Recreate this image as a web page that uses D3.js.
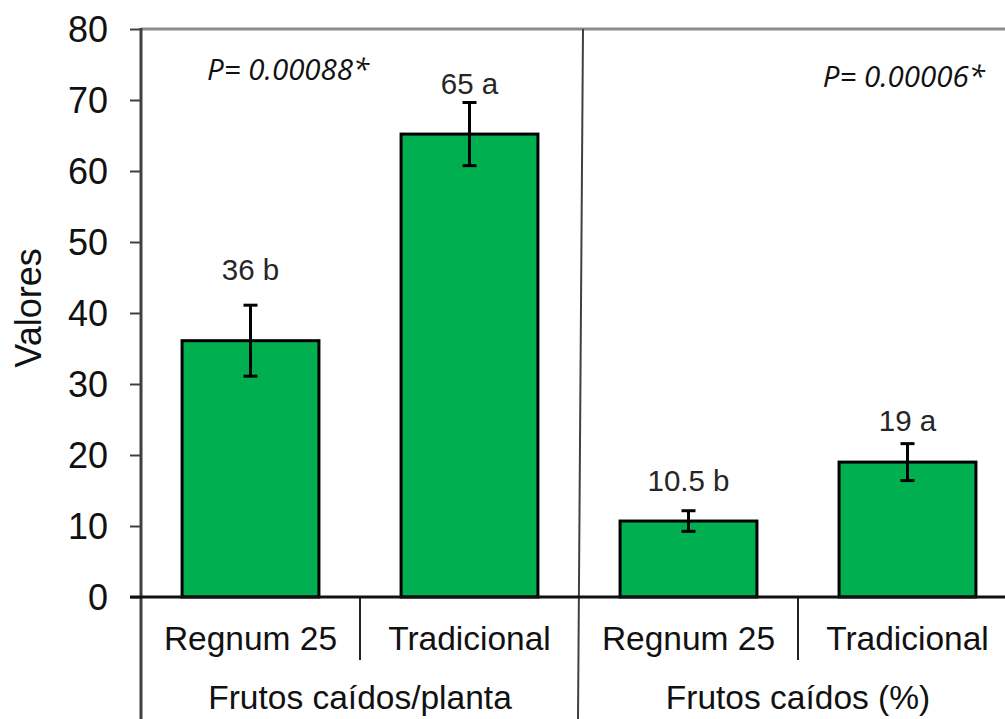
<!DOCTYPE html>
<html>
<head>
<meta charset="utf-8">
<script src="https://cdn.jsdelivr.net/npm/d3@7"></script>
<style>
  body { margin: 0; background: #fff; }
  svg { display: block; font-family: "Liberation Sans", Arial, sans-serif; }
</style>
</head>
<body>
<div id="chart"></div>
<script>
"use strict";

// Data.
const groups = ["Frutos caídos/planta", "Frutos caídos (%)"];
const treatments = ["Regnum 25", "Tradicional"];
const means = [[36.1, 65.2], [10.7, 19.0]];
const errors = [[5.0, 4.45], [1.45, 2.6]];
const valueLabels = [["36 b", "65 a"], ["10.5 b", "19 a"]];
// where each value label sits, in axis units
const valueLabelAt = [[44.7, 70.8], [14.9, 23.4]];
const pLabels = ["P= 0.00088*", "P= 0.00006*"];
const pLabelAt = [72.8, 71.8];
const yTicks = [0, 10, 20, 30, 40, 50, 60, 70, 80];
const yLabel = "Valores";

const W = 1005, H = 719;
const svg = d3.select("#chart").append("svg")
    .attr("width", W)
    .attr("height", H);

// flat list of bars, one per group/treatment pair
let bars = [];
groups.forEach(function(g, gi) {
    treatments.forEach(function(t, ti) {
        bars.push({
            key: gi + "|" + t, group: g, gi: gi, name: t,
            mean: means[gi][ti], err: errors[gi][ti],
            label: valueLabels[gi][ti], labelAt: valueLabelAt[gi][ti]
        });
    });
});

const y = d3.scaleLinear().domain([0, 80]).range([597, 29]);
const x = d3.scaleBand()
    .domain(bars.map(d => d.key))
    .range([141, 1017])
    .paddingInner(0.375)
    .paddingOuter(0.1875);
const step = x.step();
const half = (step - x.bandwidth()) / 2;  // gap from bar edge to category edge
const catLeft = d => x(d.key) - half;

// Plot frame: top grey line
svg.append("line")
    .attr("x1", 141).attr("x2", W)
    .attr("y1", y(80)).attr("y2", y(80))
    .style("stroke", "#8c8c8c").style("stroke-width", 3);

// Y axis with ticks and labels
const yAxis = d3.axisLeft(y).tickValues(yTicks).tickSize(11).tickPadding(22);
const gy = svg.append("g")
    .attr("transform", "translate(141,0)")
    .call(yAxis);
gy.select(".domain").remove();
gy.selectAll(".tick line").style("stroke", "#404040").style("stroke-width", 2);
gy.selectAll(".tick text")
    .style("font-size", "36px")
    .style("font-family", "'Liberation Sans', Arial, sans-serif")
    .style("fill", "#111")
    .attr("dy", "0.36em");

// Left axis line runs down through the category area
svg.append("line")
    .attr("x1", 141).attr("x2", 141)
    .attr("y1", y(80) - 1).attr("y2", H)
    .style("stroke", "#404040").style("stroke-width", 3);

// Group divider line (full height)
const groupStarts = bars.filter((d, i) => i % treatments.length === 0).map(catLeft);
svg.selectAll(".group_div").data(groupStarts.slice(1))
    .enter().append("line")
    .attr("class", "group_div")
    .attr("x1", d => d + 4).attr("x2", d => d - 1)
    .attr("y1", y(80)).attr("y2", H)
    .style("stroke", "#404040").style("stroke-width", 2);

// Category dividers below the baseline
const catDivs = bars.filter((d, i) => i % treatments.length !== 0).map(catLeft);
svg.selectAll(".cat_div").data(catDivs)
    .enter().append("line")
    .attr("class", "cat_div")
    .attr("x1", d => d).attr("x2", d => d)
    .attr("y1", y(0)).attr("y2", 660)
    .style("stroke", "#222").style("stroke-width", 2);

// Bars
svg.selectAll(".chart_bars").data(bars)
    .enter().append("rect")
    .attr("class", "chart_bars")
    .attr("x", d => x(d.key))
    .attr("width", x.bandwidth())
    .attr("y", d => y(d.mean))
    .attr("height", d => y(0) - y(d.mean))
    .style("fill", "#00b050")
    .style("stroke", "#000")
    .style("stroke-width", 3);

// Baseline
svg.append("line")
    .attr("x1", 130).attr("x2", W)
    .attr("y1", y(0)).attr("y2", y(0))
    .style("stroke", "#111").style("stroke-width", 3);

// Error bars
const cap = 7;
const eb = svg.selectAll(".err").data(bars).enter().append("g").attr("class", "err")
    .attr("transform", d => "translate(" + (x(d.key) + x.bandwidth() / 2) + ",0)")
    .style("stroke", "#000").style("stroke-width", 3);
eb.append("line").attr("x1", 0).attr("x2", 0)
    .attr("y1", d => y(d.mean + d.err)).attr("y2", d => y(d.mean - d.err));
eb.append("line").attr("x1", -cap).attr("x2", cap)
    .attr("y1", d => y(d.mean + d.err)).attr("y2", d => y(d.mean + d.err));
eb.append("line").attr("x1", -cap).attr("x2", cap)
    .attr("y1", d => y(d.mean - d.err)).attr("y2", d => y(d.mean - d.err));

// Value labels above the bars
svg.selectAll(".value_label").data(bars)
    .enter().append("text")
    .attr("class", "value_label")
    .attr("x", d => x(d.key) + x.bandwidth() / 2)
    .attr("y", d => y(d.labelAt))
    .style("text-anchor", "middle")
    .style("font-size", "29.5px")
    .style("fill", "#262626")
    .text(d => d.label);

// Treatment names under the axis
svg.selectAll(".cat_label").data(bars)
    .enter().append("text")
    .attr("class", "cat_label")
    .attr("x", d => x(d.key) + x.bandwidth() / 2)
    .attr("y", 650)
    .style("text-anchor", "middle")
    .style("font-size", "33.5px")
    .style("fill", "#111")
    .text(d => d.name);

// Group names
svg.selectAll(".group_label").data(groups)
    .enter().append("text")
    .attr("class", "group_label")
    .attr("x", (d, i) => groupStarts[i] + step)
    .attr("y", 709)
    .style("text-anchor", "middle")
    .style("font-size", "33.5px")
    .style("fill", "#111")
    .text(d => d);

// P-value annotations (first sits left in its group, second right-aligned)
svg.selectAll(".p_label").data(pLabels)
    .enter().append("text")
    .attr("class", "p_label")
    .attr("x", (d, i) => i === 0 ? groupStarts[0] + 66 : groupStarts[1] + 2 * step - 32)
    .attr("y", (d, i) => y(pLabelAt[i]))
    .style("text-anchor", (d, i) => i === 0 ? "start" : "end")
    .style("font-family", "'Open Sans', sans-serif")
    .style("font-style", "italic")
    .style("font-size", "29.5px")
    .style("fill", "#111")
    .text(d => d);

// Y axis title
svg.append("text")
    .attr("transform", "translate(41,308) rotate(-90)")
    .style("text-anchor", "middle")
    .style("font-size", "36px")
    .style("fill", "#111")
    .text(yLabel);
</script>
</body>
</html>
